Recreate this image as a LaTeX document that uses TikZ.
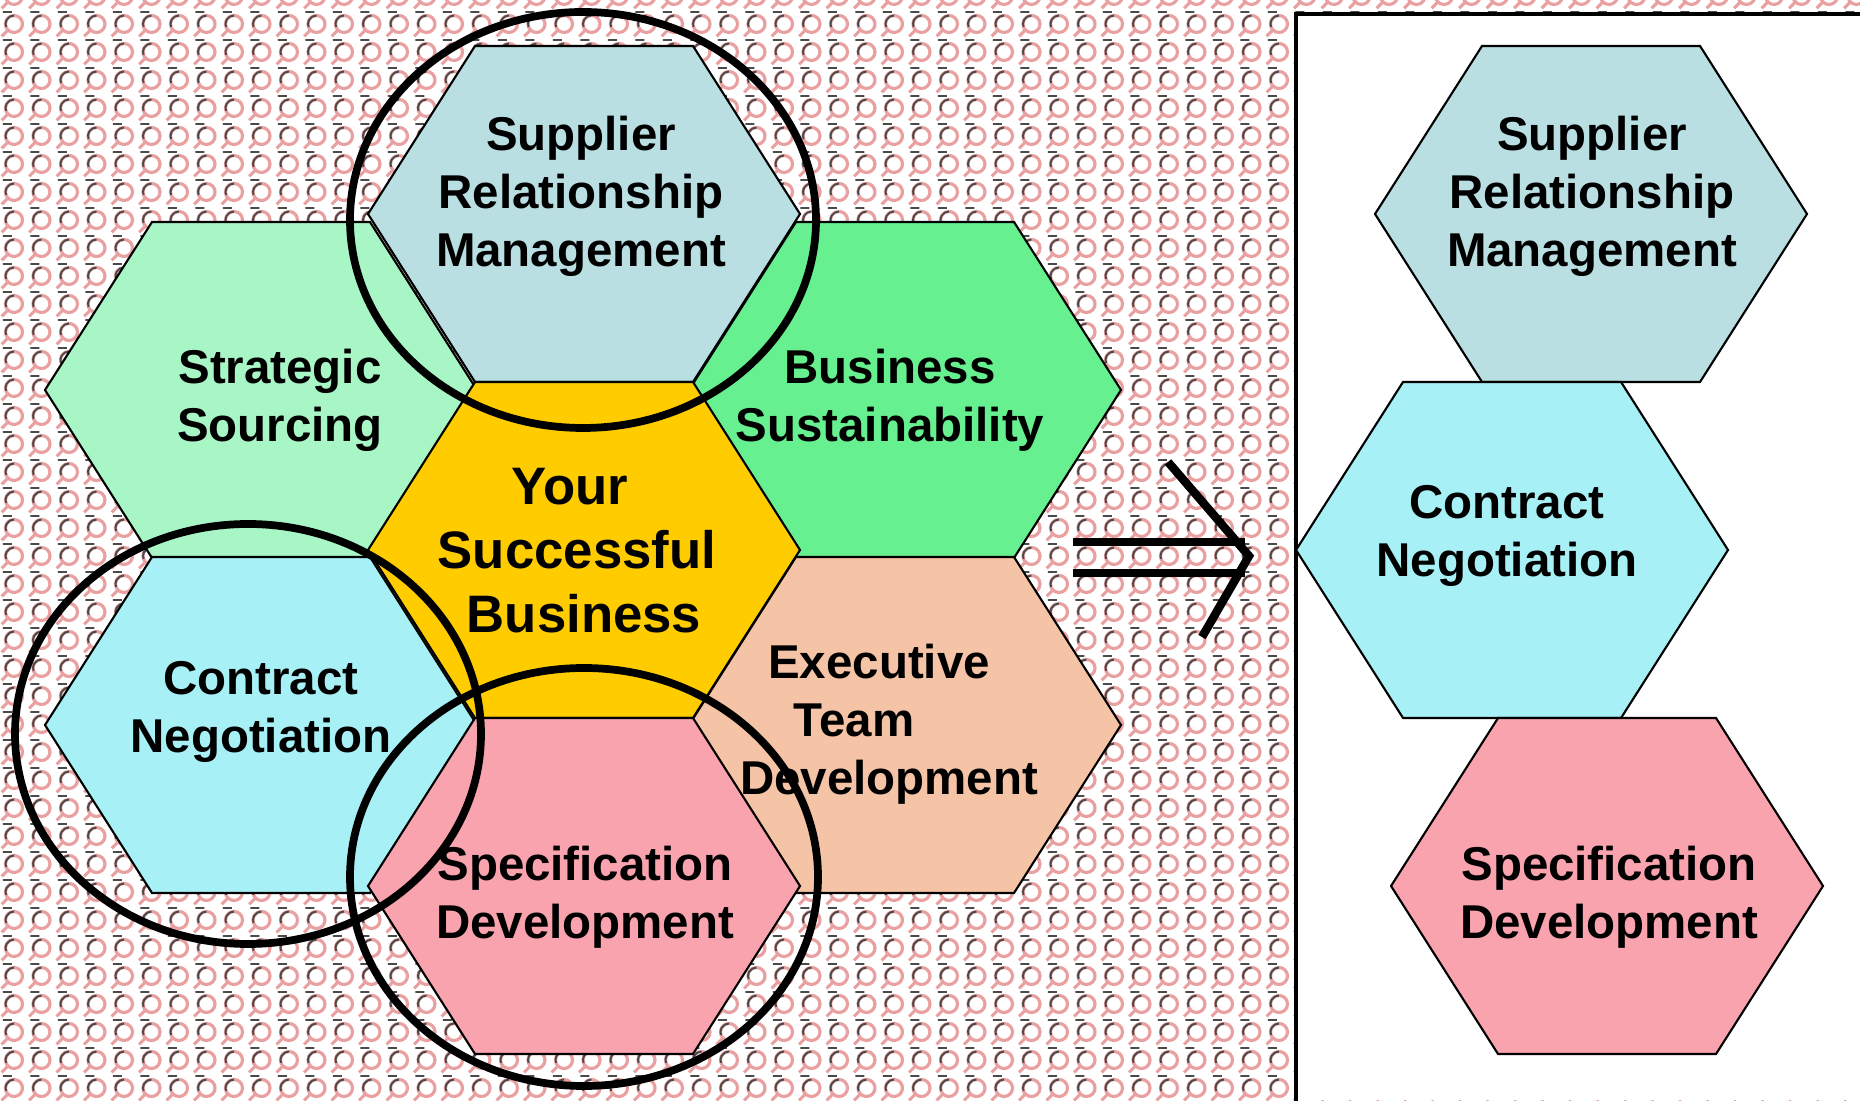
\documentclass[tikz,border=0pt]{standalone}
\usepackage{fontspec}
\setmainfont{Liberation Sans}
\usepackage{tikz}

\definecolor{bleugris}{HTML}{B9DFE2}
\definecolor{vertpale}{HTML}{A8F5C6}
\definecolor{vertvif}{HTML}{66F08F}
\definecolor{jaune}{HTML}{FFCC00}
\definecolor{cyanpale}{HTML}{A6F0F6}
\definecolor{peche}{HTML}{F5C4A6}
\definecolor{rose}{HTML}{F9A3AE}
\definecolor{motifrose}{HTML}{E9A0A0}
\definecolor{motifgris}{HTML}{4A4A4A}

% alveole aplatie : centre (#1,#2), couleur #3
\newcommand{\alveole}[3]{%
	\filldraw[bord, fill=#3] (#1,#2) ++(-2.16,0) -- ++(1.07,1.68) -- ++(2.18,0) -- ++(1.07,-1.68) -- ++(-1.07,-1.68) -- ++(-2.18,0) -- cycle;}

\begin{document}
\begin{tikzpicture}
			\tikzset{bord/.style={draw=black, line width=0.6pt}, texte/.style={font=\bfseries\fontsize{13.5}{16.5}\selectfont, align=center, inner sep=0pt}, cercle/.style={draw=black, line width=2.2pt}, fleche/.style={line width=2.1pt, line cap=butt}};

			\useasboundingbox (0,0) rectangle (18.6,11);

			% fond a motif
			\foreach \i in {0,...,67} {
				\foreach \j in {0,...,39} {
					\draw[motifrose, line width=0.9pt] (\i*0.275+0.14,\j*0.28+0.12) circle (0.085) ++(225:0.085) -- ++(225:0.09);
					\draw[motifgris, line width=0.55pt] (\i*0.275+0.14,\j*0.28+0.12) ++(90:0.085) arc[start angle=90, end angle=200, radius=0.085] (\i*0.275+0.03,\j*0.28+0.24) -- ++(0.09,0);
				}
			}

			% panneau blanc
			\fill[white] (12.96,0) rectangle (18.7,10.86);
			\draw[line width=0.9pt] (12.96,-0.1) -- (12.96,10.86) -- (18.7,10.86);

			% nid d'abeilles
			\alveole{5.84}{8.86}{bleugris}
			\alveole{2.61}{7.10}{vertpale}
			\alveole{9.05}{7.10}{vertvif}
			\alveole{5.84}{5.50}{jaune}
			\alveole{2.61}{3.75}{cyanpale}
			\alveole{9.05}{3.75}{peche}
			\alveole{5.84}{2.14}{rose}

			% colonne de droite
			\alveole{15.91}{8.86}{bleugris}
			\alveole{15.12}{5.50}{cyanpale}
			\alveole{16.07}{2.14}{rose}

			% cercles
			\draw[cercle] (5.83,8.80) ellipse [x radius=2.33, y radius=2.08];
			\draw[cercle] (2.48,3.66) ellipse [x radius=2.33, y radius=2.10];
			\draw[cercle] (5.84,2.23) ellipse [x radius=2.34, y radius=2.09];

			\node[texte] (srm)  at ( 5.81, 9.04) {Supplier\\Relationship\\Management};
			\node[texte] (ss)   at ( 2.80, 7.00) {Strategic\\Sourcing};
			\node[texte] (bs)   at ( 8.90, 7.00) {Business\\Sustainability};
			\node[texte, font=\bfseries\fontsize{15}{18.2}\selectfont] (ysb) at (5.77,5.49) {Your\kern0.14cm\\Successful\\\kern0.14cm Business};
			\node[texte] (cn)   at ( 2.61, 3.88) {Contract\\Negotiation};
			\node[texte] (etd)  at ( 8.89, 3.76) {Executive\kern0.2cm\\Team\kern0.7cm\\Development};
			\node[texte] (sd)   at ( 5.85, 2.03) {Specification\\Development};

			\node[texte] (srm2) at (15.92, 9.04) {Supplier\\Relationship\\Management};
			\node[texte] (cn2)  at (15.07, 5.64) {Contract\\Negotiation};
			\node[texte] (sd2)  at (16.09, 2.03) {Specification\\Development};

			% double fleche
			\coordinate (f1) at (10.73,5.58);
			\coordinate (f2) at (12.45,5.58);
			\coordinate (f3) at (10.73,5.27);
			\coordinate (f4) at (12.45,5.27);
			\coordinate (c1) at (11.68,6.38);
			\coordinate (c2) at (12.49,5.44);
			\coordinate (c3) at (12.02,4.63);
			\draw[fleche] (f1) -- (f2);
			\draw[fleche] (f3) -- (f4);
			\draw[fleche, line width=2.4pt, line join=miter] (c1) -- (c2) -- (c3);

		\end{tikzpicture}
\end{document}
